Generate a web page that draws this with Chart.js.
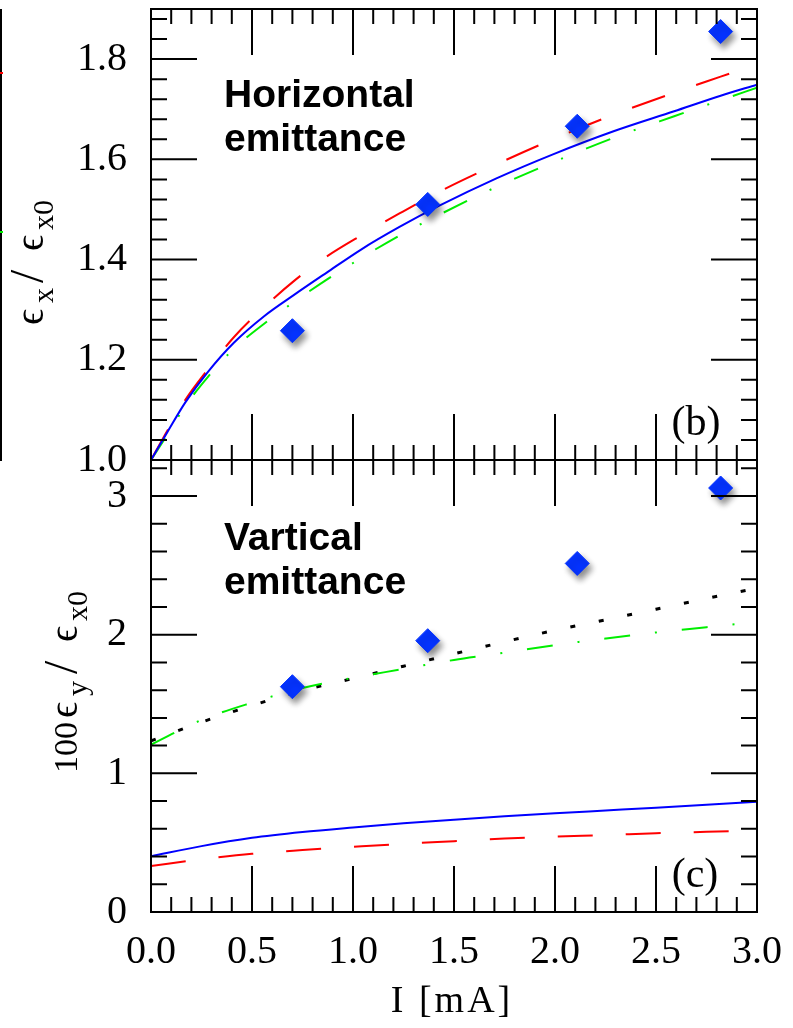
<!DOCTYPE html>
<html>
<head>
<meta charset="utf-8">
<script src="https://cdn.jsdelivr.net/npm/chart.js@4.4.1/dist/chart.umd.min.js"></script>
<style>
  html, body { margin: 0; padding: 0; background: #fff; }
  #wrap { position: relative; width: 793px; height: 1028px; overflow: hidden; }
  #wrap canvas { position: absolute; left: 0; }
</style>
</head>
<body>
<div id="wrap">
  <canvas id="bot" width="793" height="608" style="top:420px"></canvas>
  <canvas id="top" width="793" height="540" style="top:-40px"></canvas>
</div>
<script>
// tick labels
const topYTicks = [1.0, 1.2, 1.4, 1.6, 1.8];
const botYTicks = [0, 1, 2, 3];
const xTicks = [0.0, 0.5, 1.0, 1.5, 2.0, 2.5, 3.0];

// (b) horizontal emittance, eps_x / eps_x0
const hCurrent = [0, 0.08, 0.17, 0.28, 0.41, 0.56, 0.71, 0.87, 1.04, 1.23, 1.43, 1.71, 1.99, 2.29, 2.59, 2.82, 3.0];
const hSolid   = [1.0, 1.055, 1.115, 1.175, 1.234, 1.287, 1.330, 1.374, 1.420, 1.465, 1.508, 1.562, 1.610, 1.656, 1.696, 1.727, 1.749];
const hDashed  = [1.0, 1.058, 1.120, 1.180, 1.245, 1.305, 1.358, 1.406, 1.448, 1.492, 1.536, 1.590, 1.640, 1.689, 1.733, 1.765, 1.790];
const hDashDot = [1.0, 1.050, 1.108, 1.165, 1.222, 1.272, 1.316, 1.360, 1.403, 1.448, 1.490, 1.545, 1.594, 1.643, 1.686, 1.718, 1.743];
const measCurrent = [0.70, 1.37, 2.11, 2.82];
const hMeasured = [1.258, 1.510, 1.666, 1.855];

// (c) vertical emittance, 100 eps_y / eps_x0
const vCurrent = [0, 0.25, 0.5, 0.75, 1.0, 1.25, 1.5, 1.75, 2.0, 2.25, 2.5, 2.75, 3.0];
const vSolid   = [0.402, 0.475, 0.535, 0.577, 0.610, 0.640, 0.666, 0.690, 0.712, 0.732, 0.752, 0.773, 0.796];
const vDashed  = [0.332, 0.380, 0.420, 0.447, 0.470, 0.492, 0.511, 0.530, 0.544, 0.555, 0.568, 0.578, 0.586];
const vDashDot = [1.208, 1.385, 1.510, 1.615, 1.689, 1.753, 1.818, 1.870, 1.925, 1.972, 2.016, 2.054, 2.092];
const vDotted  = [1.234, 1.369, 1.489, 1.598, 1.684, 1.773, 1.862, 1.949, 2.032, 2.107, 2.184, 2.261, 2.336];
const vMeasured = [1.625, 1.957, 2.514, 3.058];

const SERIF = "'Liberation Serif', 'DejaVu Serif', serif";
const SANS = "'Liberation Sans', Arial, sans-serif";

function pts(xs, ys) { return xs.map((x, i) => ({ x: x, y: ys[i] })); }

function lineSet(xs, ys, color, dash, width) {
  return {
    data: pts(xs, ys), borderColor: color, borderWidth: width || 2, borderDash: dash || [],
    pointRadius: 0, fill: false, cubicInterpolationMode: 'monotone'
  };
}

function diamonds(xs, ys) {
  return {
    data: pts(xs, ys), showLine: false, pointStyle: 'rectRot', pointRadius: 12,
    backgroundColor: '#0533ff', borderColor: '#0533ff', borderWidth: 1
  };
}

function xScale(show) {
  const s = {
    type: 'linear', min: 0, max: 3, display: show,
    afterBuildTicks: sc => { sc.ticks = xTicks.map(v => ({ value: v })); },
    grid: { display: false }, border: { display: false },
    ticks: { font: { family: SERIF, size: 40 }, color: '#000', padding: 8, maxRotation: 0, autoSkip: false,
             callback: v => v.toFixed(1) }
  };
  if (show) s.afterFit = sc => { sc.height = 116; };
  return s;
}

function yScale(min, max, ticks, fmt) {
  return {
    type: 'linear', min: min, max: max,
    afterBuildTicks: s => { s.ticks = ticks.map(v => ({ value: v })); },
    afterFit: s => { s.width = 151; },
    grid: { display: false }, border: { display: false },
    ticks: { font: { family: SERIF, size: 40 }, color: '#000', padding: 16, callback: fmt }
  };
}

// frame with inward ticks on all four sides
function drawFrame(chart, yStep, yCount) {
  const ctx = chart.ctx, a = chart.chartArea, x = chart.scales.x, y = chart.scales.y;
  ctx.save();
  ctx.strokeStyle = '#000';
  ctx.lineWidth = 2;
  ctx.strokeRect(a.left, a.top, a.right - a.left, a.bottom - a.top);
  ctx.beginPath();
  for (let i = 0; i <= 30; i++) {
    const px = x.getPixelForValue(i * 0.1);
    const len = i % 5 === 0 ? 46 : 15;
    ctx.moveTo(px, a.bottom); ctx.lineTo(px, a.bottom - len);
    ctx.moveTo(px, a.top); ctx.lineTo(px, a.top + len);
  }
  for (let i = 0; i <= yCount; i++) {
    const py = y.getPixelForValue(y.min + i * yStep);
    const len = i % 5 === 0 ? 46 : 16;
    ctx.moveTo(a.left, py); ctx.lineTo(a.left + len, py);
    ctx.moveTo(a.right, py); ctx.lineTo(a.right - len, py);
  }
  ctx.stroke();
  ctx.restore();
}

// rotated axis title; each part placed at an offset along the reading direction
function drawRotTitle(ctx, parts, bx, startY) {
  ctx.save();
  ctx.translate(bx, startY);
  ctx.rotate(-Math.PI / 2);
  ctx.fillStyle = '#000';
  ctx.textAlign = 'left';
  ctx.textBaseline = 'alphabetic';
  parts.forEach(p => {
    ctx.font = p.size + 'px ' + SERIF;
    ctx.fillText(p.t, p.at, p.dy || 0);
  });
  ctx.restore();
}

function drawText(ctx, t, x, y, font, align) {
  ctx.save();
  ctx.fillStyle = '#000';
  ctx.font = font;
  ctx.textAlign = align || 'left';
  ctx.textBaseline = 'alphabetic';
  ctx.fillText(t, x, y);
  ctx.restore();
}

const shadowPlugin = {
  id: 'diamondShadow',
  beforeDatasetDraw(chart, args) {
    if (args.index !== 0) return;
    const ctx = chart.ctx;
    ctx.save();
    ctx.shadowColor = 'rgba(0,0,0,0.45)';
    ctx.shadowBlur = 6;
    ctx.shadowOffsetX = 3;
    ctx.shadowOffsetY = 5;
  },
  afterDatasetDraw(chart, args) {
    if (args.index !== 0) return;
    chart.ctx.restore();
  }
};

const common = {
  responsive: false, animation: false, events: [],
  plugins: { legend: { display: false }, tooltip: { enabled: false } }
};

// top panel (b); canvas placed 40px above the page
new Chart(document.getElementById('top'), {
  type: 'line',
  data: {
    datasets: [
      diamonds(measCurrent, hMeasured),
      lineSet(hCurrent, hSolid, '#0000ff', [], 2),
      lineSet(hCurrent, hDashed, '#ff0000', [35, 33], 2),
      lineSet(hCurrent, hDashDot, '#00ee00', [26, 25, 2, 25], 2)
    ]
  },
  options: Object.assign({}, common, {
    layout: { padding: { top: 49, bottom: 39, left: 0, right: 36 } },
    scales: { x: xScale(false), y: yScale(1.0, 1.9, topYTicks, v => v.toFixed(1)) }
  }),
  plugins: [shadowPlugin, {
    id: 'decorTop',
    afterDraw(chart) {
      const ctx = chart.ctx;
      drawFrame(chart, 0.04, 22);
      // edge of the neighbouring panel
      ctx.save();
      ctx.strokeStyle = '#000'; ctx.lineWidth = 2;
      ctx.beginPath(); ctx.moveTo(1, 49); ctx.lineTo(1, 501); ctx.stroke();
      ctx.fillStyle = '#ff0000'; ctx.fillRect(0, 112, 3, 2);
      ctx.fillStyle = '#00ee00'; ctx.fillRect(0, 271, 3, 2);
      ctx.restore();
      drawText(ctx, 'Horizontal', 224, 147, 'bold 39px ' + SANS);
      drawText(ctx, 'emittance', 224, 191, 'bold 39px ' + SANS);
      drawText(ctx, '(b)', 696, 475, '42px ' + SERIF, 'center');
      drawRotTitle(ctx, [
        { t: '\u03f5', size: 40, at: 0 }, { t: 'x', size: 30, dy: 10, at: 22 },
        { t: '/', size: 48, at: 42 },
        { t: '\u03f5', size: 40, at: 74 }, { t: 'x0', size: 30, dy: 10, at: 95 }
      ], 43, 365);
    }
  }]
});

// bottom panel (c); canvas starts at page y = 420
new Chart(document.getElementById('bot'), {
  type: 'line',
  data: {
    datasets: [
      diamonds(measCurrent, vMeasured),
      lineSet(vCurrent, vSolid, '#0000ff', [], 2),
      lineSet(vCurrent, vDashed, '#ff0000', [35, 33], 2),
      lineSet(vCurrent, vDashDot, '#00ee00', [26, 25, 2, 25], 2),
      lineSet(vCurrent, vDotted, '#000000', [5, 24], 3)
    ]
  },
  options: Object.assign({}, common, {
    layout: { padding: { top: 40, bottom: 0, left: 0, right: 36 } },
    scales: { x: xScale(true), y: yScale(0, 3.26, botYTicks, v => String(v)) }
  }),
  plugins: [shadowPlugin, {
    id: 'decorBot',
    afterDraw(chart) {
      const ctx = chart.ctx;
      drawFrame(chart, 0.2, 16);
      drawText(ctx, 'Vartical', 224, 130, 'bold 39px ' + SANS);
      drawText(ctx, 'emittance', 224, 174, 'bold 39px ' + SANS);
      drawText(ctx, '(c)', 695, 467, '42px ' + SERIF, 'center');
      ctx.save();
      ctx.letterSpacing = '3px';
      drawText(ctx, 'I [mA]', 452, 592, '38px ' + SERIF, 'center');
      ctx.restore();
      drawRotTitle(ctx, [
        { t: '100', size: 34, at: 0 },
        { t: '\u03f5', size: 40, at: 55 }, { t: 'y', size: 30, dy: 10, at: 77 },
        { t: '/', size: 48, at: 99 },
        { t: '\u03f5', size: 40, at: 131 }, { t: 'x0', size: 30, dy: 10, at: 152 }
      ], 77, 353);
    }
  }]
});
</script>
</body>
</html>
